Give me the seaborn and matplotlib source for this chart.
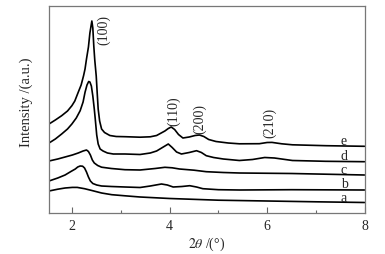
import matplotlib
matplotlib.use("Agg")
import matplotlib.pyplot as plt
import seaborn as sns
import pandas as pd

# ---- data (2theta in degrees, intensity in arbitrary offset units) ----
e_x = [1.52, 1.65, 1.78, 1.90, 1.99, 2.05, 2.12, 2.18, 2.23, 2.26, 2.29, 2.33, 2.36, 2.40,
       2.42, 2.44, 2.46, 2.49, 2.51, 2.53, 2.56, 2.60, 2.66, 2.77, 2.90, 3.08, 3.39, 3.60,
       3.73, 3.90, 3.97, 4.03, 4.10, 4.18, 4.27, 4.40, 4.52, 4.61, 4.70, 4.80, 4.95, 5.20,
       5.43, 5.84, 6.00, 6.10, 6.30, 6.52, 7.21, 8.00]
e_y = [89, 93, 97.3, 102, 107.3, 112, 120.7, 128, 137.3, 144, 154, 166, 180, 192,
       185, 167, 153, 137, 120, 104, 92, 84, 80.5, 77.5, 76.5, 76.3, 75.8, 76.2,
       77.5, 82, 84.5, 86, 83.5, 78.5, 75, 76, 77.5, 78, 76.5, 73.5, 71.5, 70,
       69.2, 69.3, 70.5, 70.6, 69.2, 68.2, 67.3, 66.7]

d_x = [1.52, 1.65, 1.78, 1.90, 1.99, 2.08, 2.16, 2.22, 2.26, 2.30, 2.335, 2.36, 2.39, 2.42,
       2.45, 2.47, 2.50, 2.53, 2.57, 2.63, 2.72, 2.84, 3.08, 3.39, 3.60, 3.73, 3.85, 3.97,
       4.05, 4.14, 4.24, 4.40, 4.55, 4.65, 4.75, 4.90, 5.10, 5.43, 5.70, 5.95, 6.15, 6.52,
       7.20, 8.00]
d_y = [70, 74, 79, 84, 89, 95, 102.3, 111, 120.7, 128, 131.5, 131, 127, 117,
       104, 94, 78, 69, 64, 62, 60, 59, 59, 58.5, 60, 62, 65.5, 69,
       65.5, 61, 59, 60.5, 62.3, 60.5, 57.3, 55.5, 54, 52.5, 53.5, 55.5, 55, 52.5,
       51.7, 51.3]

c_x = [1.52, 1.70, 1.85, 2.00, 2.12, 2.22, 2.29, 2.33, 2.37, 2.41, 2.45, 2.52, 2.60, 2.80,
       3.08, 3.39, 3.70, 3.90, 4.05, 4.20, 4.50, 4.75, 5.10, 5.43, 6.50, 8.00]
c_y = [52, 54, 56, 58, 60, 62, 63, 61.5, 58, 53, 50, 47.5, 45.8, 44.5,
       43.3, 43, 44.5, 45.7, 45.2, 44, 42.8, 41.3, 40.5, 40, 39.5, 38]

b_x = [1.52, 1.70, 1.85, 1.97, 2.06, 2.11, 2.16, 2.21, 2.25, 2.29, 2.33, 2.37, 2.42, 2.50,
       2.60, 2.80, 3.08, 3.39, 3.60, 3.83, 3.95, 4.07, 4.25, 4.41, 4.55, 4.68, 5.00, 5.43,
       6.50, 8.00]
b_y = [32, 35, 38, 41.5, 44, 46, 47, 46.8, 45, 41, 36, 32, 29.5, 28,
       27, 26.5, 26, 25.5, 27, 29, 28, 26, 26.5, 27.3, 26, 24.3, 23.3, 23,
       23.3, 23]

a_x = [1.52, 1.70, 1.85, 2.00, 2.10, 2.25, 2.40, 2.60, 2.81, 3.08, 3.39, 4.00, 5.00, 6.00,
       7.00, 8.00]
a_y = [22, 23.8, 25, 25.6, 25.6, 24.3, 22.5, 20, 18.3, 17.2, 16, 14.5, 12.8, 12,
       11.2, 10.5]

series_names = ["a", "b", "c", "d", "e"]
label_y = [15.7, 29.7, 44, 58, 72.3]

peak_labels = ["(100)", "(110)", "(200)", "(210)"]
peak_x = [2.65, 4.08, 4.61, 6.05]
peak_y = [184, 103, 95, 91]

xticks = [2, 4, 6, 8]
minor_xticks = [3, 5, 7]

# ---- build table ----
frames = []
for name, xs, ys in [("a", a_x, a_y), ("b", b_x, b_y), ("c", c_x, c_y),
                     ("d", d_x, d_y), ("e", e_x, e_y)]:
    frames.append(pd.DataFrame({"theta": xs, "I": ys, "sample": name}))
df = pd.concat(frames, ignore_index=True)

sns.set_style("ticks")
plt.rcParams["font.family"] = ["Liberation Serif", "DejaVu Serif"]
plt.rcParams["mathtext.fontset"] = "stix"

fig = plt.figure(figsize=(3.85, 2.55), dpi=100)
ax = fig.add_axes([49 / 385, 1 - 214 / 255, (364.5 - 49) / 385, (214 - 7) / 255])

sns.lineplot(data=df, x="theta", y="I", units="sample", estimator=None, sort=False,
             color="black", linewidth=1.2, ax=ax, legend=False)

ax.set_xlim(1.52, 8.0)
ax.set_ylim(0, 207)
ax.set_xticks(xticks)
ax.set_xticklabels([str(t) for t in xticks])
ax.set_xticks(minor_xticks, minor=True)
ax.set_yticks([])
ax.tick_params(axis="x", which="major", direction="in", length=4.5, width=0.8,
               color="#666666", labelsize=10, pad=4)
ax.tick_params(axis="x", which="minor", direction="in", length=2.5, width=0.8,
               color="#666666")
for sp in ax.spines.values():
    sp.set_color("#777777")
    sp.set_linewidth(0.9)

ax.set_xlabel(r"$2\theta$ /(°)", fontsize=10, labelpad=2)
ax.set_ylabel("Intensity /(a.u.)", fontsize=10.5)
ax.yaxis.set_label_coords(-0.052, 0.54)

for name, ly in zip(series_names, label_y):
    ax.text(7.58, ly, name, fontsize=10, ha="center", va="center")

for lab, px, py in zip(peak_labels, peak_x, peak_y):
    ax.text(px, py, lab, fontsize=10, rotation=90, ha="center", va="center")

fig.savefig("out.png", dpi=100)
